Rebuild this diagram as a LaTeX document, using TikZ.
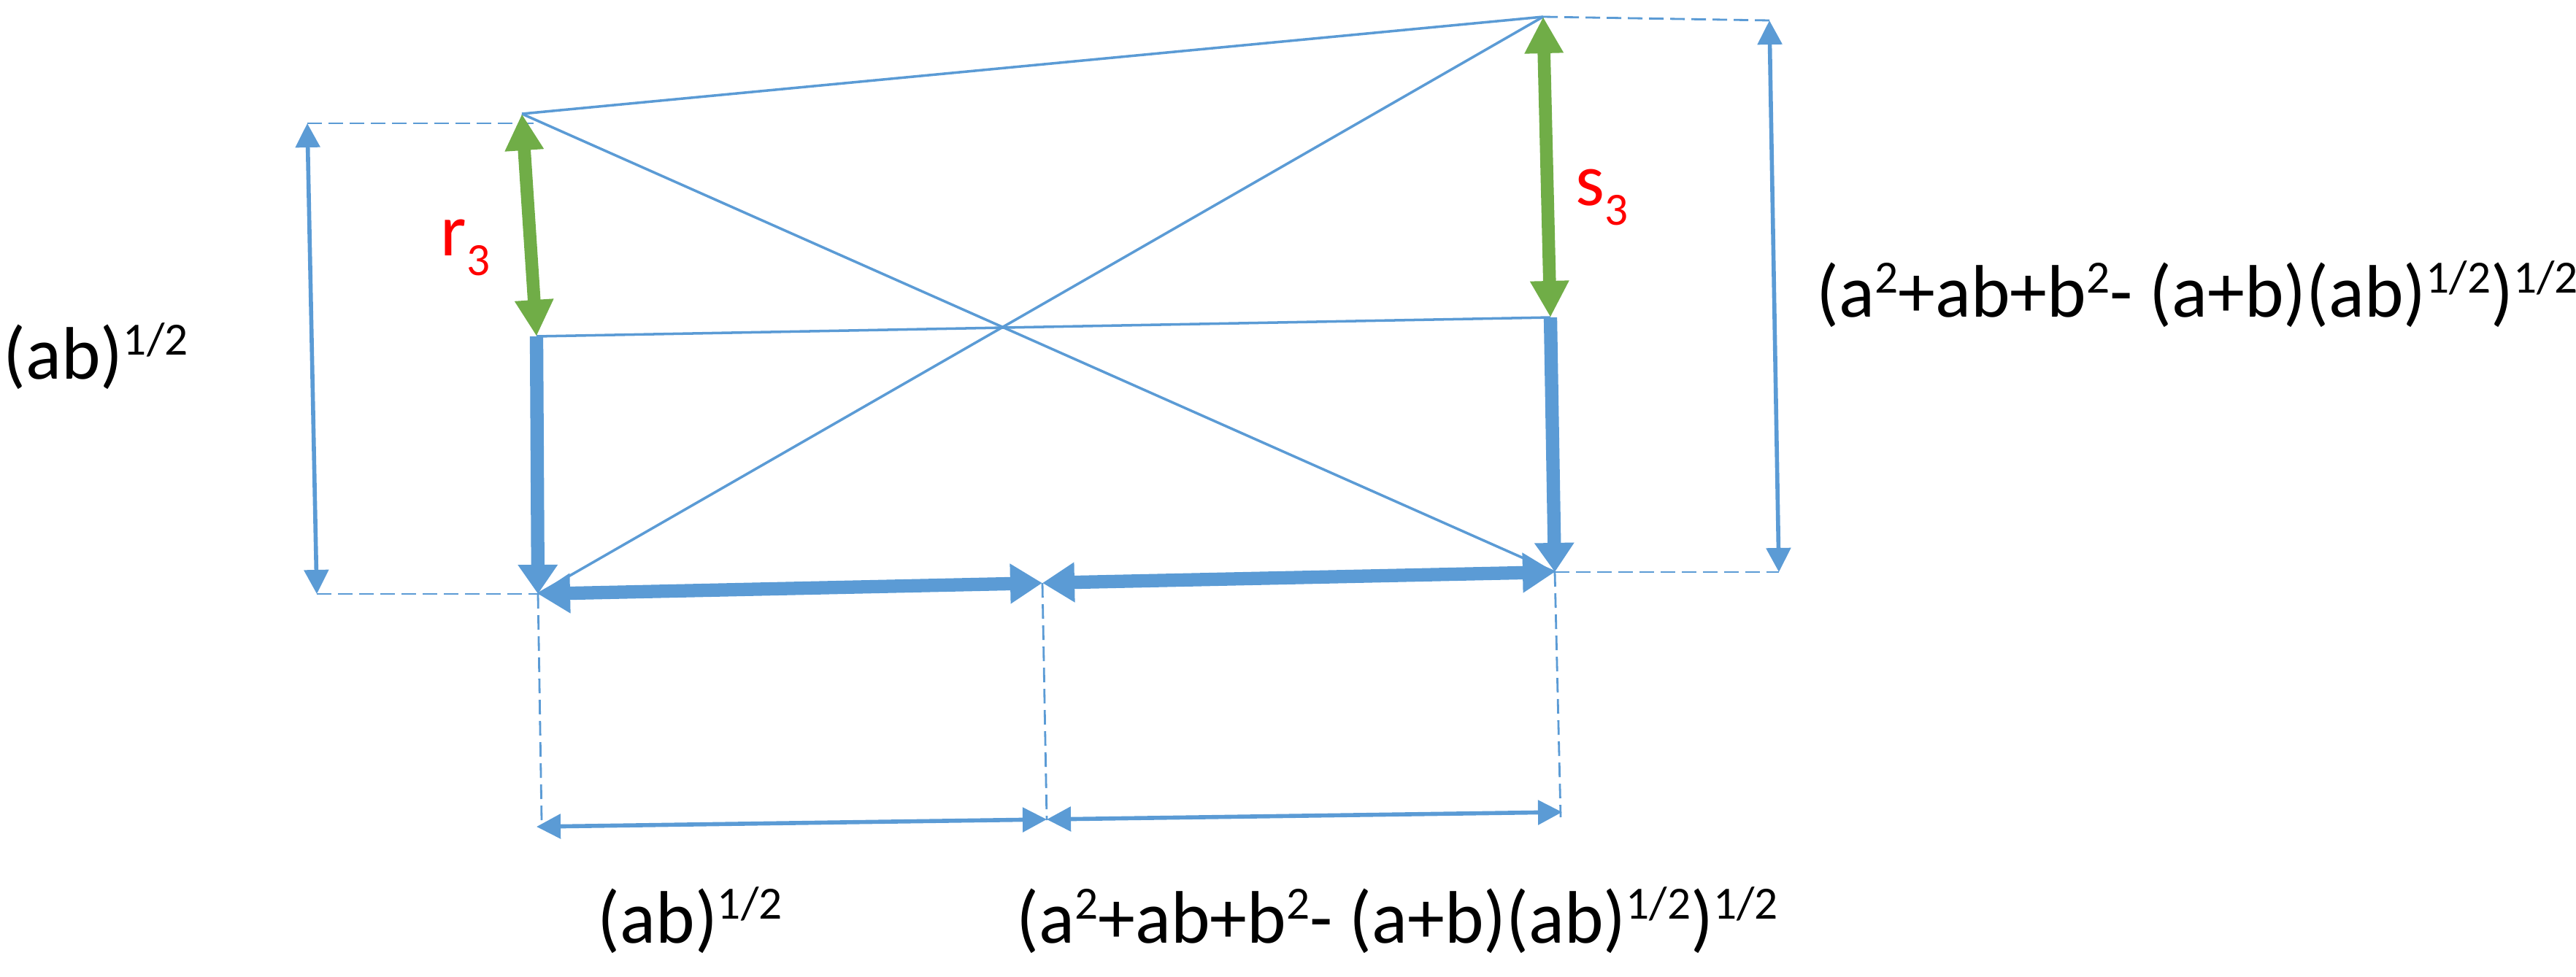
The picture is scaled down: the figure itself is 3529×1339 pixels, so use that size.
\documentclass[tikz,border=0pt]{standalone}
\usepackage{fontspec}
\setmainfont{Carlito}
\usetikzlibrary{arrows.meta}
\definecolor{oblue}{HTML}{5B9BD5}
\definecolor{ogreen}{HTML}{70AD47}
\newcommand\supr[1]{\raisebox{0.32em}{\fontsize{18}{18}\selectfont #1}}
\newcommand\subr[1]{\raisebox{-0.27em}{\fontsize{18}{18}\selectfont #1}}
\begin{document}
\begin{tikzpicture}[x=0.01cm,y=-0.01cm,
  thinln/.style={oblue, line width=1pt},
  dashln/.style={oblue, line width=0.8pt, dash pattern=on 0.2cm off 0.09cm},
  dimarrow/.style={oblue, line width=1.6pt, {Triangle[width=0.33cm,length=0.33cm]}-{Triangle[width=0.33cm,length=0.33cm]}},
  thickboth/.style={oblue, line width=5.2pt, {Triangle[width=0.52cm,length=0.44cm]}-{Triangle[width=0.52cm,length=0.44cm]}},
  thickone/.style={oblue, line width=5.2pt, -{Triangle[width=0.52cm,length=0.4cm]}},
  greenarrow/.style={ogreen, line width=5pt, {Triangle[width=0.5cm,length=0.5cm]}-{Triangle[width=0.5cm,length=0.5cm]}},
  lbl/.style={inner sep=0, anchor=base west, font=\fontsize{29}{34}\selectfont},
]
\useasboundingbox (0,0) rectangle (3529,1339);
% main points
\coordinate (TL) at (715,156);
\coordinate (TR) at (2114,23);
\coordinate (ML) at (735,461);
\coordinate (MR) at (2124,435);
\coordinate (BL) at (737,814);
\coordinate (BR) at (2130,784);
\coordinate (BM) at (1428,799);
% dimension points
\coordinate (LDt) at (421,169);
\coordinate (LDb) at (434,814);
\coordinate (LDe) at (731,169);
\coordinate (RDt) at (2424,28);
\coordinate (RDb) at (2437,784);
\coordinate (BLd) at (742,1124);
\coordinate (BMd) at (1434,1124);
\coordinate (BRd) at (2138,1120);
\coordinate (DL) at (735,1133);
\coordinate (DM) at (1434,1123);
\coordinate (DR) at (2140,1113);
% dashed extension lines
\draw[dashln] (LDt) -- (LDe);
\draw[dashln] (LDb) -- (BL);
\draw[dashln] (TR) -- (RDt);
\draw[dashln] (BR) -- (RDb);
\draw[dashln] (BL) -- (BLd);
\draw[dashln] (BM) -- (BMd);
\draw[dashln] (BR) -- (BRd);
% thin construction lines
\draw[thinln] (TL) -- (TR);
\draw[thinln] (TL) -- (BR);
\draw[thinln] (BL) -- (TR);
\draw[thinln] (ML) -- (MR);
% thick arrows
\draw[greenarrow] (TL) -- (ML);
\draw[greenarrow] (TR) -- (MR);
\draw[thickone] (ML) -- (BL);
\draw[thickone] (MR) -- (BR);
\draw[thickboth] (BM) -- (BL);
\draw[thickboth] (BM) -- (BR);
% dimension arrows
\draw[dimarrow] (LDt) -- (LDb);
\draw[dimarrow] (RDt) -- (RDb);
\draw[dimarrow] (DL) -- (DM);
\draw[dimarrow] (DM) -- (DR);
% labels
\node[lbl] (labL) at (4,519) {(ab)\supr{1/2}};
\node[lbl, text=red] (labr) at (603,350) {r\subr{3}};
\node[lbl, text=red] (labs) at (2158,281) {s\subr{3}};
\node[lbl] (labR) at (2488,434) {(a\supr{2}+ab+b\supr{2}- (a+b)(ab)\supr{1/2})\supr{1/2}};
\node[lbl] (labBL) at (818,1292) {(ab)\supr{1/2}};
\node[lbl] (labBR) at (1392,1292) {(a\supr{2}+ab+b\supr{2}- (a+b)(ab)\supr{1/2})\supr{1/2}};
\end{tikzpicture}
\end{document}
